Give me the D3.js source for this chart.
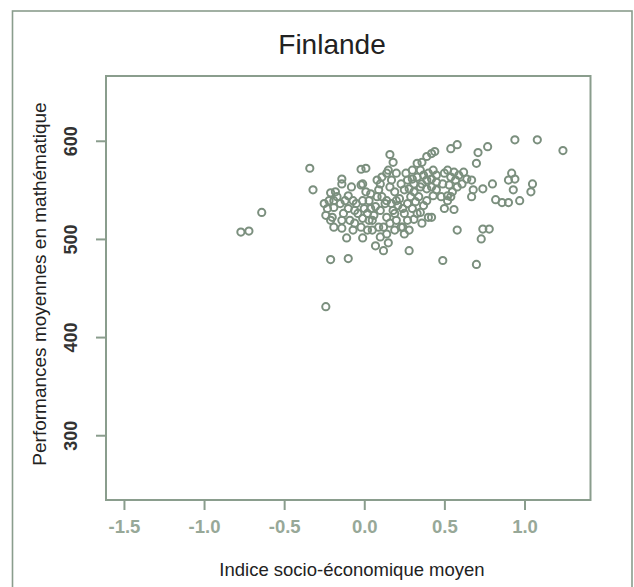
<!DOCTYPE html>
<html>
<head>
<meta charset="utf-8">
<script src="https://cdn.jsdelivr.net/npm/d3@7"></script>
<style>
  body { margin: 0; background: #fff; }
  text { font-family: "Liberation Sans", Arial, sans-serif; }
</style>
</head>
<body>
<div id="vis"></div>
<script>
// frame constants
const FRAME_WIDTH = 634;
const FRAME_HEIGHT = 587;
const PLOT = {left: 106, right: 590.5, top: 76, bottom: 500};

// data
const TITLE = "Finlande";
const X_LABEL = "Indice socio-économique moyen";
const Y_LABEL = "Performances moyennes en mathématique";
const X_TICKS = [-1.5, -1.0, -0.5, 0.0, 0.5, 1.0];
const Y_TICKS = [300, 400, 500, 600];
const X_LIMITS = [-1.5, 1.3];
const Y_LIMITS = [250, 650];

// socio-economic index of each school
const SES = [
  -0.77, -0.72, -0.64, -0.24,
  -0.34, -0.32, -0.21, -0.18, -0.14, -0.14, -0.17, -0.22, -0.23, -0.24,
  -0.20, -0.19, -0.15, -0.12, -0.10, -0.13, -0.14, -0.09, -0.14, -0.11,
  -0.06, -0.04, -0.05, -0.01, 0.00, -0.01, -0.02, -0.01, 0.02, -0.02,
  -0.01, -0.02, 0.01, 0.03, 0.04, 0.06, 0.07, 0.08, 0.09, 0.10,
  0.08, 0.11, 0.14, 0.16, 0.18, 0.15, 0.20, 0.17, 0.16, 0.19,
  0.22, 0.21, 0.18, 0.14, 0.12, 0.20, 0.24, 0.25, 0.27, 0.29,
  0.28, 0.27, 0.26, 0.30, 0.33, 0.36, 0.39, 0.42, 0.44, 0.35,
  0.33, 0.31, 0.35, 0.39, 0.37, 0.40, 0.43, 0.42, 0.45, 0.50,
  0.52, 0.54, 0.56, 0.59, 0.62, 0.64, 0.61, 0.58, 0.55, 0.52,
  0.48, 0.45, 0.43, 0.39, 0.37, 0.35, 0.40, 0.42, 0.36, 0.31,
  0.33, 0.30, 0.32, 0.28, 0.23, 0.50, 0.56, 0.52, 0.54, 0.07,
  0.12, 0.15, 0.28, 0.49, 0.58, 0.74, 0.78, 0.73, 0.70, 0.67,
  0.68, 0.67, 0.74, 0.80, 0.82, 0.86, 0.90, 0.97, 0.92, 0.94,
  0.90, 0.93, 1.05, 1.04, 0.71, 0.70, 0.77, 0.58, 0.54, 0.94,
  1.08, 1.24, -0.21, -0.10,
  0.02, 0.05, 0.10, 0.13, 0.11, 0.14, 0.17, 0.19, 0.16, 0.09,
  0.05, 0.03, 0.04, 0.01, -0.08, -0.10, 0.25, 0.23, 0.30, 0.31,
  0.34, 0.36, 0.39, 0.42, 0.49, 0.53, 0.57, 0.45, 0.27, 0.25,
  0.19, 0.14, 0.10, 0.20, 0.24, -0.06, -0.07, -0.19, -0.25, -0.21,
  -0.19, -0.07
];

// mean maths score of each school
const MATHS = [
  507, 508, 527, 431,
  572, 550, 547, 548, 561, 556, 543, 539, 531, 524,
  522, 532, 536, 539, 531, 526, 519, 519, 511, 501,
  516, 526, 536, 539, 531, 521, 512, 501, 509, 555,
  556, 571, 572, 539, 531, 524, 533, 543, 550, 556,
  560, 563, 567, 586, 578, 570, 567, 560, 553, 548,
  541, 534, 529, 522, 512, 519, 512, 526, 536, 543,
  551, 560, 567, 570, 577, 578, 584, 587, 589, 570,
  563, 556, 553, 560, 565, 567, 570, 561, 565, 567,
  570, 563, 568, 565, 568, 561, 556, 553, 548, 544,
  543, 550, 544, 539, 534, 527, 522, 522, 516, 520,
  526, 531, 538, 509, 512, 531, 530, 539, 543, 493,
  488, 496, 488, 478, 509, 510, 510, 500, 474, 560,
  550, 543, 551, 556, 540, 537, 537, 539, 567, 561,
  560, 550, 556, 548, 588, 577, 594, 596, 592, 601,
  601, 590, 479, 480,
  526, 519, 529, 536, 543, 539, 536, 526, 516, 512,
  509, 519, 546, 548, 553, 544, 550, 556, 561, 548,
  543, 556, 551, 553, 556, 555, 560, 558, 519, 505,
  509, 505, 502, 539, 531, 529, 539, 539, 536, 519,
  512, 509
];

const POINTS = SES.map((d, i) => { return {ses: d, maths: MATHS[i]}; });

const FRAME = d3.select("#vis")
                  .append("svg")
                    .attr("width", FRAME_WIDTH)
                    .attr("height", FRAME_HEIGHT);

// R style 4% expansion of the limits
const xPad = (X_LIMITS[1] - X_LIMITS[0]) * 0.04;
const yPad = (Y_LIMITS[1] - Y_LIMITS[0]) * 0.04;

const X_SCALE = d3.scaleLinear()
                    .domain([X_LIMITS[0] - xPad, X_LIMITS[1] + xPad])
                    .range([PLOT.left, PLOT.right]);
const Y_SCALE = d3.scaleLinear()
                    .domain([Y_LIMITS[0] - yPad, Y_LIMITS[1] + yPad])
                    .range([PLOT.bottom, PLOT.top]);

const GREEN = "#8a9d8d";

// outer frame
FRAME.append("rect")
      .attr("x", 12.5)
      .attr("y", 11)
      .attr("width", 619.5)
      .attr("height", 600)
      .attr("fill", "none")
      .attr("stroke", GREEN)
      .attr("stroke-width", 1.6);

// title
FRAME.append("text")
      .attr("x", 332)
      .attr("y", 54)
      .attr("text-anchor", "middle")
      .attr("font-size", "28px")
      .attr("fill", "#222")
      .text(TITLE);

// points
FRAME.append("g")
      .selectAll("circle")
      .data(POINTS)
      .enter()
      .append("circle")
        .attr("cx", (d) => { return X_SCALE(d.ses); })
        .attr("cy", (d) => { return Y_SCALE(d.maths); })
        .attr("r", 3.6)
        .attr("fill", "none")
        .attr("stroke", "#7b8f7e")
        .attr("stroke-width", 2);

// x axis
const xAxis = FRAME.append("g")
      .attr("transform", "translate(0," + PLOT.bottom + ")")
      .call(d3.axisBottom(X_SCALE)
              .tickValues(X_TICKS)
              .tickSize(10)
              .tickPadding(10)
              .tickFormat((d) => { return d.toFixed(1); }));
xAxis.select(".domain").remove();
xAxis.selectAll("line").attr("stroke", GREEN).attr("stroke-width", 2);
xAxis.selectAll("text")
      .attr("font-size", "18.5px")
      .attr("font-weight", "bold")
      .attr("font-family", "Liberation Sans, Arial, sans-serif")
      .attr("fill", "#97a898");

// y axis
const yAxis = FRAME.append("g")
      .attr("transform", "translate(" + PLOT.left + ",0)")
      .call(d3.axisLeft(Y_SCALE)
              .tickValues(Y_TICKS)
              .tickSize(10)
              .tickFormat((d) => { return d; }));
yAxis.select(".domain").remove();
yAxis.selectAll("line").attr("stroke", GREEN).attr("stroke-width", 2);
yAxis.selectAll("text")
      .attr("x", 0)
      .attr("dy", null)
      .attr("transform", "translate(-35,0) rotate(-90)")
      .attr("text-anchor", "middle")
      .attr("dominant-baseline", "central")
      .attr("font-size", "18px")
      .attr("font-weight", "bold")
      .attr("font-family", "Liberation Sans, Arial, sans-serif")
      .attr("fill", "#333");

// plot box
FRAME.append("rect")
      .attr("x", PLOT.left)
      .attr("y", PLOT.top)
      .attr("width", PLOT.right - PLOT.left)
      .attr("height", PLOT.bottom - PLOT.top)
      .attr("fill", "none")
      .attr("stroke", GREEN)
      .attr("stroke-width", 2);

// axis titles
FRAME.append("text")
      .attr("x", 352)
      .attr("y", 576)
      .attr("text-anchor", "middle")
      .attr("font-size", "18.5px")
      .attr("fill", "#222")
      .text(X_LABEL);

FRAME.append("text")
      .attr("transform", "translate(46," + ((PLOT.top + PLOT.bottom) / 2 - 4) + ") rotate(-90)")
      .attr("text-anchor", "middle")
      .attr("font-size", "19px")
      .attr("fill", "#222")
      .text(Y_LABEL);
</script>
</body>
</html>
